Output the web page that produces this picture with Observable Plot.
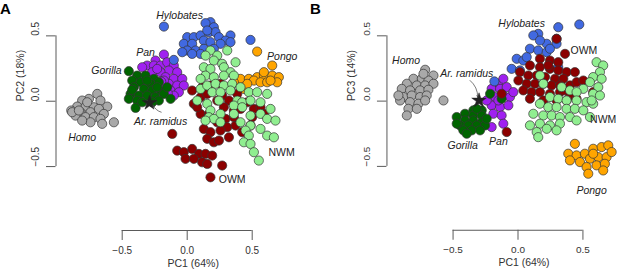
<!DOCTYPE html>
<html>
<head>
<meta charset="utf-8">
<script src="https://cdn.jsdelivr.net/npm/d3@7"></script>
<script src="https://cdn.jsdelivr.net/npm/@observablehq/plot@0.6"></script>
<style>
  html, body { margin: 0; padding: 0; background: #fff; }
  #wrap { position: relative; width: 617px; height: 275px; overflow: hidden; font-family: 'Liberation Sans', Arial, Helvetica, sans-serif; }
  .panel { position: absolute; top: 0; }
  .letter { position: absolute; top: 0.5px; font-size: 15px; font-weight: bold; line-height: 15px; color: #000; }
</style>
</head>
<body>
<div id="wrap">
  <div class="panel" id="pA" style="left:0px"></div>
  <div class="panel" id="pB" style="left:331.3px"></div>
  <div class="letter" style="left:0px">A</div>
  <div class="letter" style="left:310px">B</div>
</div>
<script>
// ---------- categories & styling lookup ----------
const groups = ["Homo", "Pan", "Gorilla", "Hylobates", "Pongo", "OWM", "NWM"];
const groupColors = ["#a9a9a9", "#a020f0", "#006400", "#4169e1", "#ffa500", "#8b0000", "#90ee90"];

// ---------- tick values ----------
const xTicks = [-0.5, 0, 0.5];
const yTicks = [-0.5, 0, 0.5];
const xTitle = "PC1 (64%)";
const yTitleA = "PC2 (18%)";
const yTitleB = "PC3 (14%)";

// ---------- Panel A : PC1 vs PC2 ----------
const homoA = [[-0.692,0.056],[-0.756,0.018],[-0.808,0.005],[-0.667,0.005],[-0.615,-0.041],[-0.846,-0.041],[-0.892,-0.071],[-0.782,-0.041],[-0.718,-0.046],[-0.821,-0.084],[-0.744,-0.084],[-0.679,-0.059],[-0.641,-0.097],[-0.859,-0.110],[-0.782,-0.122],[-0.718,-0.122],[-0.667,-0.135],[-0.744,-0.161],[-0.654,-0.173],[-0.564,-0.161],[-0.808,-0.148],[-0.885,-0.084],[-0.769,-0.008],[-0.833,-0.071]];
const panA = [[-0.179,0.357],[-0.244,0.311],[-0.308,0.273],[-0.256,0.273],[-0.205,0.273],[-0.154,0.298],[-0.103,0.273],[-0.141,0.235],[-0.205,0.222],[-0.269,0.222],[-0.077,0.222],[-0.167,0.184],[-0.103,0.171],[-0.038,0.171],[-0.141,0.133],[-0.077,0.120],[-0.026,0.120],[-0.128,0.082],[-0.064,0.069],[-0.103,0.043],[-0.179,0.158],[-0.231,0.247],[-0.346,0.260],[-0.150,0.060],[-0.200,0.150]];
const gorillaA = [[-0.449,0.230],[-0.385,0.196],[-0.321,0.196],[-0.256,0.171],[-0.423,0.158],[-0.359,0.145],[-0.282,0.133],[-0.218,0.145],[-0.410,0.107],[-0.333,0.094],[-0.269,0.082],[-0.205,0.082],[-0.436,0.056],[-0.372,0.043],[-0.308,0.043],[-0.244,0.031],[-0.179,0.056],[-0.449,0.018],[-0.385,0.005],[-0.218,0.005],[-0.397,-0.051],[-0.128,0.018],[-0.154,0.107],[-0.308,0.158],[-0.346,-0.008],[-0.269,-0.008],[-0.423,0.087],[-0.231,0.107]];
const hylobatesA = [[-0.179,0.571],[0.179,0.605],[0.141,0.597],[0.205,0.566],[0.000,0.490],[0.051,0.490],[0.103,0.503],[0.167,0.528],[0.218,0.528],[0.244,0.490],[0.333,0.503],[0.295,0.464],[-0.026,0.439],[0.038,0.439],[0.128,0.464],[0.179,0.452],[0.256,0.439],[0.333,0.452],[0.000,0.388],[0.064,0.388],[0.128,0.401],[0.205,0.401],[0.103,0.362],[0.038,0.362],[-0.103,0.316],[0.487,0.469],[-0.038,0.375],[0.154,0.541]];
const pongoA = [[0.538,0.380],[0.654,0.273],[0.410,0.171],[0.474,0.171],[0.538,0.184],[0.590,0.196],[0.654,0.196],[0.705,0.184],[0.436,0.094],[0.513,0.158],[0.564,0.145],[0.615,0.145],[0.692,0.145],[0.359,0.145],[0.590,0.222],[0.641,0.158],[0.462,0.133]];
const owmA = [[0.051,-0.020],[0.115,0.107],[0.179,0.120],[0.256,0.133],[0.333,0.107],[0.269,0.043],[0.321,0.005],[0.231,0.005],[0.282,-0.046],[0.359,-0.071],[0.410,-0.059],[0.462,-0.008],[0.513,-0.059],[0.500,-0.122],[0.564,-0.046],[0.590,-0.097],[0.231,-0.161],[0.295,-0.135],[0.308,-0.199],[0.372,-0.186],[0.128,-0.212],[0.179,-0.237],[0.256,-0.224],[0.321,-0.276],[0.423,-0.237],[0.487,-0.186],[-0.115,-0.250],[0.154,-0.288],[0.205,-0.314],[0.244,-0.301],[-0.077,-0.378],[-0.026,-0.390],[0.038,-0.365],[0.090,-0.403],[0.141,-0.403],[0.192,-0.416],[-0.013,-0.441],[0.051,-0.441],[0.115,-0.467],[0.154,-0.480],[0.269,-0.492],[0.179,-0.582],[0.038,0.082],[0.103,0.031],[0.154,0.056],[0.385,0.056],[0.103,-0.097],[0.167,-0.097],[0.359,-0.122],[0.077,-0.046]];
const nwmA = [[0.179,0.388],[0.308,0.388],[0.141,0.349],[0.231,0.349],[0.205,0.311],[0.269,0.286],[0.128,0.260],[0.179,0.247],[0.282,0.260],[0.333,0.222],[0.141,0.196],[0.205,0.184],[0.282,0.196],[0.359,0.196],[0.103,0.094],[0.154,0.120],[0.218,0.133],[0.282,0.120],[0.346,0.133],[0.410,0.107],[0.192,0.069],[0.256,0.069],[0.333,0.082],[0.474,0.069],[0.538,0.069],[0.615,0.056],[0.077,0.005],[0.154,-0.020],[0.244,0.005],[0.385,0.005],[0.423,-0.008],[0.487,0.005],[0.564,-0.008],[0.359,-0.033],[0.179,-0.071],[0.256,-0.097],[0.359,-0.097],[0.423,-0.046],[0.487,-0.110],[0.564,-0.097],[0.641,-0.059],[0.615,-0.135],[0.679,-0.148],[0.167,-0.122],[0.205,-0.135],[0.141,-0.148],[0.256,-0.161],[0.410,-0.161],[0.487,-0.186],[0.564,-0.212],[0.449,-0.224],[0.474,-0.263],[0.615,-0.263],[0.667,-0.276],[0.436,-0.314],[0.487,-0.327],[0.513,-0.390],[0.551,-0.454],[0.372,0.298],[0.103,0.171]];
const ramidusA = [[-0.290,-0.013]];

// ---------- Panel B : PC1 vs PC3 ----------
const homoB = [[-0.715,0.240],[-0.651,0.196],[-0.805,0.171],[-0.741,0.171],[-0.690,0.158],[-0.856,0.133],[-0.779,0.120],[-0.715,0.120],[-0.651,0.133],[-0.895,0.094],[-0.831,0.082],[-0.754,0.082],[-0.690,0.087],[-0.882,0.031],[-0.818,0.043],[-0.754,0.031],[-0.703,0.043],[-0.908,0.005],[-0.831,-0.008],[-0.767,-0.020],[-0.844,-0.059],[-0.779,-0.059],[-0.715,0.005],[-0.856,-0.110],[-0.574,0.005],[-0.921,0.043],[-0.728,0.209]];
const panB = [[-0.151,0.133],[-0.113,0.171],[-0.203,0.094],[-0.138,0.094],[-0.087,0.107],[-0.177,0.031],[-0.113,0.043],[-0.062,0.031],[-0.203,-0.033],[-0.138,-0.046],[-0.074,-0.033],[-0.190,-0.097],[-0.126,-0.110],[-0.203,-0.199],[-0.113,-0.173],[-0.036,0.069],[-0.151,0.005],[-0.241,0.005]];
const gorillaB = [[-0.344,-0.071],[-0.279,-0.071],[-0.408,-0.097],[-0.344,-0.110],[-0.279,-0.110],[-0.472,-0.122],[-0.408,-0.148],[-0.344,-0.148],[-0.279,-0.161],[-0.446,-0.186],[-0.382,-0.186],[-0.318,-0.186],[-0.254,-0.186],[-0.421,-0.224],[-0.356,-0.224],[-0.292,-0.224],[-0.395,-0.250],[-0.472,-0.173],[-0.241,-0.135],[-0.215,0.056],[-0.126,0.018],[-0.318,-0.059]];
const hylobatesB = [[0.472,0.587],[0.310,0.566],[0.156,0.515],[0.118,0.503],[0.297,0.477],[0.221,0.439],[0.092,0.401],[0.156,0.388],[0.221,0.375],[0.297,0.439],[-0.010,0.324],[0.041,0.311],[-0.049,0.247],[0.015,0.235],[-0.182,0.151],[0.067,0.337],[0.169,0.464],[0.246,0.401],[0.310,0.260]];
const pongoB = [[0.438,-0.327],[0.387,-0.403],[0.451,-0.416],[0.515,-0.403],[0.579,-0.365],[0.644,-0.352],[0.695,-0.339],[0.400,-0.454],[0.477,-0.467],[0.554,-0.441],[0.618,-0.429],[0.682,-0.429],[0.528,-0.505],[0.605,-0.492],[0.669,-0.480],[0.541,-0.556],[0.656,-0.531],[0.579,-0.403],[0.721,-0.390]];
const owmB = [[0.297,0.477],[0.362,0.362],[0.169,0.324],[0.246,0.311],[0.310,0.298],[0.092,0.273],[0.169,0.260],[0.246,0.247],[0.310,0.235],[0.374,0.222],[0.438,0.222],[0.015,0.222],[0.079,0.196],[0.144,0.196],[0.208,0.184],[0.285,0.171],[0.349,0.171],[0.003,0.158],[0.067,0.133],[0.131,0.133],[0.195,0.133],[0.259,0.120],[0.323,0.120],[0.400,0.120],[0.451,0.145],[0.503,0.158],[0.041,0.082],[0.105,0.069],[0.169,0.069],[0.246,0.056],[0.323,0.069],[0.400,0.043],[0.092,0.018],[0.195,0.005],[0.297,0.005],[0.374,0.005],[0.451,0.018],[-0.087,-0.237],[-0.126,0.056],[0.579,0.069],[0.233,0.273],[0.349,0.082]];
const nwmB = [[0.605,0.298],[0.656,0.273],[0.631,0.222],[0.579,0.184],[0.644,0.171],[0.554,0.145],[0.618,0.107],[0.503,0.094],[0.579,0.056],[0.631,0.043],[0.169,0.196],[0.195,0.133],[0.336,0.107],[0.400,0.082],[0.451,0.069],[0.246,0.031],[0.310,0.018],[0.374,0.005],[0.451,0.005],[0.528,-0.008],[0.579,-0.020],[0.169,-0.020],[0.233,-0.046],[0.297,-0.046],[0.374,-0.059],[0.438,-0.059],[0.503,-0.071],[0.118,-0.097],[0.195,-0.110],[0.259,-0.110],[0.323,-0.122],[0.400,-0.122],[0.092,-0.186],[0.169,-0.173],[0.246,-0.186],[0.323,-0.173],[0.451,-0.148],[0.144,-0.237],[0.221,-0.212],[0.156,-0.276],[0.297,-0.224],[0.554,-0.122],[0.567,0.005]];
const ramidusB = [[-0.300,0.005]];

// ---------- text annotations ----------
const italicLabelsA = [
  {text: "Hylobates", pc1: -0.059, pc: 0.656},
  {text: "Pan", pc1: -0.321, pc: 0.370},
  {text: "Gorilla", pc1: -0.621, pc: 0.235},
  {text: "Homo", pc1: -0.808, pc: -0.281},
  {text: "Ar. ramidus", pc1: -0.205, pc: -0.153},
  {text: "Pongo", pc1: 0.731, pc: 0.342}
];
const plainLabelsA = [
  {text: "NWM", pc1: 0.726, pc: -0.395},
  {text: "OWM", pc1: 0.346, pc: -0.602}
];
const arrowA = [{x1: -0.200, y1: -0.084, x2: -0.262, y2: -0.030}];

const italicLabelsB = [
  {text: "Hylobates", pc1: 0.028, pc: 0.592},
  {text: "Homo", pc1: -0.862, pc: 0.311},
  {text: "Ar. ramidus", pc1: -0.395, pc: 0.214},
  {text: "Gorilla", pc1: -0.426, pc: -0.344},
  {text: "Pan", pc1: -0.151, pc: -0.314},
  {text: "Pongo", pc1: 0.567, pc: -0.689}
];
const plainLabelsB = [
  {text: "OWM", pc1: 0.508, pc: 0.388},
  {text: "NWM", pc1: 0.656, pc: -0.143}
];
const arrowB = [{x1: -0.369, y1: 0.158, x2: -0.310, y2: 0.030}];

// ---------- build tables ----------
const toRows = (pairs, group) => pairs.map(([pc1, pc]) => ({group, pc1, pc}));
const pointsA = [
  ...toRows(homoA, "Homo"), ...toRows(panA, "Pan"), ...toRows(gorillaA, "Gorilla"),
  ...toRows(hylobatesA, "Hylobates"), ...toRows(pongoA, "Pongo"), ...toRows(owmA, "OWM"), ...toRows(nwmA, "NWM")
];
const pointsB = [
  ...toRows(homoB, "Homo"), ...toRows(panB, "Pan"), ...toRows(gorillaB, "Gorilla"),
  ...toRows(hylobatesB, "Hylobates"), ...toRows(pongoB, "Pongo"), ...toRows(owmB, "OWM"), ...toRows(nwmB, "NWM")
];

const FONT = "'Liberation Sans', Arial, Helvetica, sans-serif";
const AXIS = "#5a5a5a";
const fmt = d => (d < 0 ? "\u2212" : "") + Math.abs(d).toFixed(1);

function panel({width, points, star, italicLabels, plainLabels, arrow, yTitle}) {
  const mL = 55.5, mB = 45, H = 275;
  const zeroPx = 186.7, pxPerUnit = 130;
  const xDom = [(mL - zeroPx) / pxPerUnit, (width - zeroPx) / pxPerUnit];
  const yDom = [-0.989, 0.7705];
  return Plot.plot({
    width, height: H,
    marginLeft: mL, marginRight: 0, marginTop: 0, marginBottom: mB,
    style: {fontFamily: FONT, background: "transparent", overflow: "visible"},
    x: {domain: xDom},
    y: {domain: yDom},
    color: {domain: groups, range: groupColors},
    marks: [
      // axes (R style: line spans tick range only)
      Plot.ruleY([yDom[0]], {x1: xTicks[0], x2: xTicks[xTicks.length - 1], stroke: AXIS, strokeWidth: 1}),
      Plot.ruleX([xDom[0]], {y1: yTicks[0], y2: yTicks[yTicks.length - 1], stroke: AXIS, strokeWidth: 1}),
      Plot.axisX({ticks: xTicks, tickSize: 10, tickFormat: () => "", label: null, stroke: AXIS}),
      Plot.axisY({ticks: yTicks, tickSize: 9.5, tickFormat: () => "", label: null, stroke: AXIS}),
      Plot.text(xTicks, {x: d => d, frameAnchor: "bottom", dy: 23, text: fmt, fontSize: 10, fill: "#333"}),
      Plot.text(yTicks, {y: d => d, frameAnchor: "left", dx: -20, rotate: -90, text: fmt, fontSize: 10, fill: "#333"}),
      Plot.text([xTitle], {x: () => 0, frameAnchor: "bottom", dx: 6, dy: 36, text: d => d, fontSize: 10.5, fill: "#333"}),
      Plot.text([yTitle], {y: () => 0, frameAnchor: "left", dx: -35.5, dy: 0, rotate: -90, text: d => d, fontSize: 10.5, fill: "#333"}),
      // specimens
      Plot.dot(points, {x: "pc1", y: "pc", fill: "group", r: 4.6, stroke: "#333", strokeWidth: 0.7}),
      Plot.dot(star, {x: d => d[0], y: d => d[1], symbol: "star", r: 4.6, fill: "#222", stroke: "#222", strokeWidth: 0.5}),
      Plot.arrow(arrow, {x1: "x1", y1: "y1", x2: "x2", y2: "y2", bend: 25, headLength: 4, stroke: "#444", strokeWidth: 0.7}),
      Plot.text(italicLabels, {x: "pc1", y: "pc", text: "text", fontStyle: "italic", fontSize: 10.5, fill: "#222"}),
      Plot.text(plainLabels, {x: "pc1", y: "pc", text: "text", fontSize: 10.5, fill: "#222"})
    ]
  });
}

document.getElementById("pA").appendChild(panel({
  width: 331, points: pointsA, star: ramidusA,
  italicLabels: italicLabelsA, plainLabels: plainLabelsA, arrow: arrowA, yTitle: yTitleA
}));
document.getElementById("pB").appendChild(panel({
  width: 286, points: pointsB, star: ramidusB,
  italicLabels: italicLabelsB, plainLabels: plainLabelsB, arrow: arrowB, yTitle: yTitleB
}));
</script>
</body>
</html>
